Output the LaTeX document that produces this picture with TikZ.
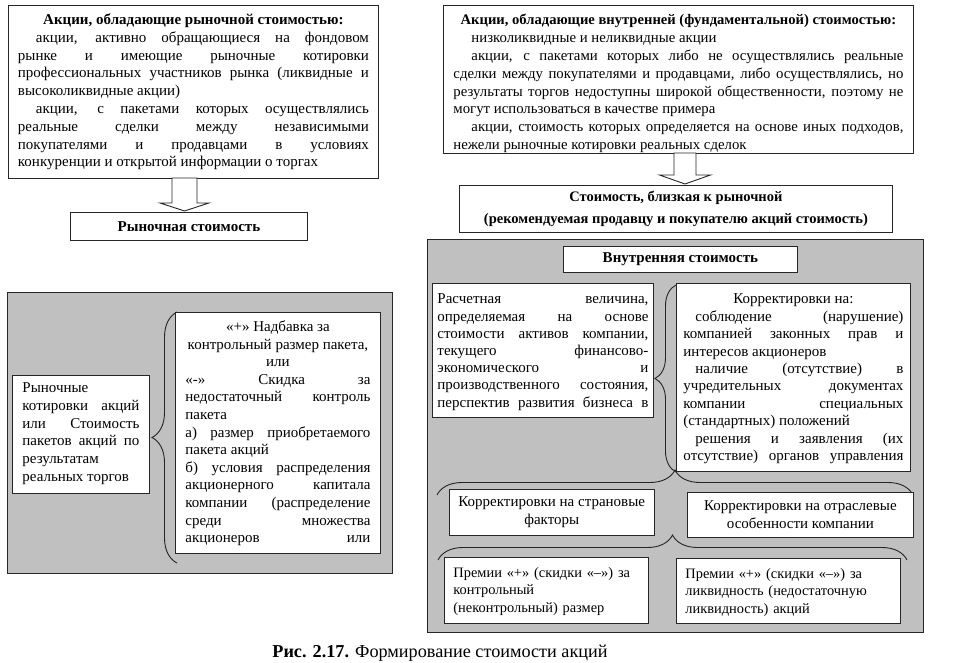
\documentclass[tikz,border=0pt]{standalone}
\usepackage{fontspec}
\setmainfont{Liberation Serif}
\usetikzlibrary{decorations.pathreplacing}

\definecolor{panelgray}{RGB}{192,192,192}
\newcommand{\txt}{\fontsize{15}{17.8}\selectfont}
\newcommand{\firstind}{\hspace*{18pt}}
\newcommand{\fillend}{\parfillskip=0pt\par}

\tikzstyle{box} = [draw=black!85, line width=0.9pt, fill=white, anchor=north west, inner ysep=0pt, inner xsep=9pt, font=\txt]
\tikzstyle{jbox} = [box, align=justify]
\tikzstyle{panel} = [draw=black!85, line width=0.9pt, fill=panelgray]
\tikzstyle{hollow} = [draw=black!85, line width=0.9pt, fill=white]
\tikzstyle{curly} = [draw=black!85, line width=0.9pt, decorate, decoration={brace, amplitude=25pt}]

\begin{document}
\begin{tikzpicture}[x=1pt, y=-1pt]
	\useasboundingbox (0,0) rectangle (970,663);

	% grey panels
	\draw[panel] (7,292) rectangle (392,573);
	\draw[panel] (427,239) rectangle (923,632);

	% braces
	\draw[curly] (177,563) -- (177,312);
	\draw[curly, decoration={brace, amplitude=21pt}] (676,472) -- (676,285);
	\draw[curly] (437,495) -- (913,495);
	\draw[curly] (438,560) -- (907,560);

	% top boxes
	\node[jbox, text width=351pt, inner xsep=9.5pt, text height=19pt, text depth=154pt] (mkt) at (8,5)
		{{\centering\bfseries Акции, обладающие рыночной стоимостью:\par}
		\firstind акции, активно обращающиеся на фондовом\linebreak рынке и имеющие рыночные котировки\linebreak
		профессиональных участников рынка (ликвидные и\linebreak высоколиквидные акции)\par
		\firstind акции, с пакетами которых осуществлялись\linebreak реальные сделки между независимыми\linebreak
		покупателями и продавцами в условиях\linebreak конкуренции и открытой информации о торгах\par};
	\node[jbox, text width=450pt, inner xsep=10pt, text height=19pt, text depth=129pt, font=\fontsize{14.8}{17.9}\selectfont] (fund) at (443,5)
		{{\centering\bfseries\fontsize{14.6}{17.9}\selectfont Акции, обладающие внутренней (фундаментальной) стоимостью:\par}
		\firstind низколиквидные и неликвидные акции\par
		\firstind акции, с пакетами которых либо не осуществлялись реальные\linebreak
		сделки между покупателями и продавцами, либо осуществлялись, но\linebreak
		результаты торгов недоступны широкой общественности, поэтому не\linebreak
		могут использоваться в качестве примера\par
		\firstind акции, стоимость которых определяется на основе иных подходов,\linebreak
		нежели рыночные котировки реальных сделок\par};

	\node[box, minimum width=237pt, minimum height=28pt, font=\txt\bfseries] (mktval) at (70,212) {Рыночная стоимость};
	\node[box, minimum width=433pt, minimum height=47pt, align=center, font=\fontsize{14.5}{22}\selectfont\bfseries] (fundval) at (459,185)
		{Стоимость, близкая к рыночной\\(рекомендуемая продавцу и покупателю акций стоимость)};

	% block arrows
	\coordinate (a1) at (184.5,178);
	\coordinate (a2) at (685,153);
	\draw[hollow] (a1) ++(-12.5,0) -- ++(0,25) -- ++(-12,0) -- ++(24.5,8) -- ++(24.5,-8) -- ++(-12,0) -- ++(0,-25) -- cycle;
	\draw[hollow] (a2) ++(-11,0) -- ++(0,22) -- ++(-14.5,0) -- ++(25.5,9) -- ++(25.5,-9) -- ++(-14.5,0) -- ++(0,-22) -- cycle;

	% left panel
	\node[jbox, text width=117pt, inner xsep=10pt, text height=17pt, text depth=101pt] (rk) at (12,375)
		{Рыночные\linebreak котировки акций\linebreak или Стоимость\linebreak пакетов акций по\linebreak результатам\linebreak реальных торгов\par};
	\node[jbox, text width=185pt, inner xsep=10pt, text height=19pt, text depth=222pt, font=\fontsize{15}{17.6}\selectfont] (nadb) at (175,312)
		{{\centering «+» Надбавка за\\контрольный размер пакета,\\или\par}
		«-» Скидка за\linebreak недостаточный контроль\linebreak пакета\par
		а) размер приобретаемого\linebreak пакета акций\par
		б) условия распределения\linebreak акционерного капитала\linebreak компании (распределение\linebreak
		среди множества\linebreak акционеров или\fillend};

	% right panel
	\node[box, minimum width=234pt, minimum height=26pt, font=\txt\bfseries] (intval) at (563,246) {Внутренняя стоимость};
	\node[jbox, text width=211pt, inner xsep=5pt, text height=20.5pt, text depth=113.5pt, font=\fontsize{15}{17.2}\selectfont] (calc) at (432,283)
		{Расчетная величина,\linebreak определяемая на основе\linebreak стоимости активов компании,\linebreak
		текущего финансово-\linebreak экономического и\linebreak производственного состояния,\linebreak перспектив развития бизнеса в\fillend};
	\node[jbox, text width=220pt, inner xsep=7pt, text height=20.5pt, text depth=167.5pt, font=\fontsize{15}{17.4}\selectfont] (corr) at (676,283)
		{{\centering Корректировки на:\par}
		\hspace*{12pt}соблюдение (нарушение)\linebreak компанией законных прав и\linebreak интересов акционеров\par
		\hspace*{12pt}наличие (отсутствие) в\linebreak учредительных документах\linebreak компании специальных\linebreak (стандартных) положений\par
		\hspace*{12pt}решения и заявления (их\linebreak отсутствие) органов управления\fillend};

	\node[box, minimum width=204pt, minimum height=46pt, align=center] (ctry) at (449,489) {Корректировки на страновые\\факторы};
	\node[box, minimum width=226pt, minimum height=45pt, align=center] (indus) at (687,492) {Корректировки на отраслевые\\особенности компании};
	\node[box, text width=186pt, text height=20pt, text depth=46pt, font=\fontsize{14.4}{17.5}\selectfont] (prem1) at (444,557)
		{Премии «+» (скидки «–») за\\контрольный\\(неконтрольный) размер};
	\node[box, text width=206pt, text height=20pt, text depth=45pt, font=\fontsize{14.4}{17.5}\selectfont] (prem2) at (676,558)
		{Премии «+» (скидки «–») за\\ликвидность (недостаточную\\ликвидность) акций};

	% caption
	\node[anchor=base, font=\fontsize{18.2}{21}\selectfont] (cap) at (440,657) {\textbf{Рис. 2.17.} Формирование стоимости акций};
\end{tikzpicture}
\end{document}
